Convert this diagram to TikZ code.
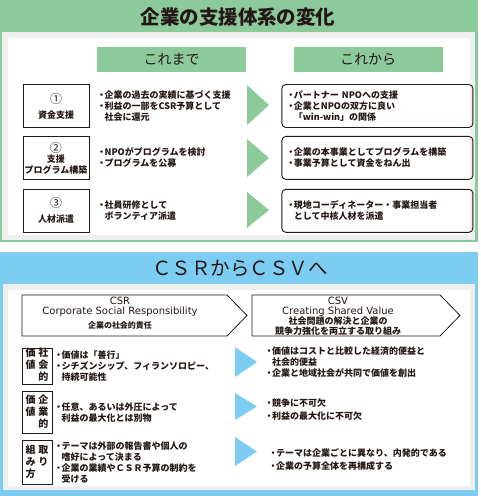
\documentclass[tikz,border=0pt]{standalone}
\usepackage{fontspec}
\setmainfont{Noto Sans CJK JP}
\newfontfamily\latinfont{DejaVu Sans}
\usetikzlibrary{positioning}
\definecolor{panelgreen}{HTML}{8CC99B}
\definecolor{panelblue}{HTML}{7DCDF3}
\definecolor{framegray}{HTML}{EFEFEF}
\definecolor{textdark}{HTML}{231815}
\newcommand{\jbul}{\makebox[6pt]{・}}
\newcommand{\jind}{\hspace*{6pt}}
\newcommand{\nummark}[1]{{\mdseries\fontsize{12}{12}\selectfont #1}}

\begin{document}
\begin{tikzpicture}[
  x=1pt, y=-1pt,
  every node/.style={text=textdark},
  headbox/.style={
    rectangle, fill=panelgreen,
    minimum width=149pt, minimum height=25pt, inner sep=0pt,
    font=\fontsize{14}{16}\selectfont
  },
  itembox/.style={
    rectangle, draw=textdark, line width=0.9pt,
    minimum width=66pt, minimum height=43pt, inner sep=0pt,
    align=center, font=\bfseries\fontsize{9}{11}\selectfont
  },
  resultbox/.style={
    rectangle, rounded corners=4pt, draw=textdark, line width=0.9pt,
    text width=179pt, inner xsep=6pt, inner ysep=0pt,
    minimum height=43pt, align=left,
    font=\bfseries\fontsize{9}{11}\selectfont
  },
  bodytext/.style={
    inner sep=0pt, align=left,
    font=\bfseries\fontsize{9}{11}\selectfont
  },
  tatebox/.style={
    rectangle, draw=textdark, line width=0.9pt,
    minimum width=30pt, inner sep=0pt,
    font=\bfseries\fontsize{10}{11}\selectfont
  },
  pentagon/.style={draw=textdark, line width=0.8pt, fill=white}
]
\useasboundingbox (0,0) rectangle (480,496);
\fill[white] (0,0) rectangle (480,496);

% ── Panels ────────────────────────────────────────────────────────────────
\fill[panelgreen] (0,0) rectangle (478,242);
\fill[framegray]  (2,32) rectangle (475,240);
\fill[white]      (8,38) rectangle (470,235);

\fill[panelblue]  (0,252) rectangle (478,496);
\fill[framegray]  (3,284) rectangle (475,490);
\fill[white]      (8,290) rectangle (470,486);

% ── Titles ────────────────────────────────────────────────────────────────
\node[font=\bfseries\fontsize{19.5}{22}\selectfont] (title) at (238,17)
  {企業の支援体系の変化};
\node[headbox] (before) at (171.5,59.5) {これまで};
\node[headbox] (after)  at (368,59.5)   {これから};

% ── Support types ─────────────────────────────────────────────────────────
\node[itembox] (fund) at (56,106) {\nummark{①}\\[4pt]資金支援};
\node[itembox, below=8pt of fund] (program) {\nummark{②}\\[-1pt]支援\\プログラム構築};
\node[itembox, below=9pt of program] (staff) {\nummark{③}\\[4pt]人材派遣};

% ── Until now ─────────────────────────────────────────────────────────────
\node[bodytext, right=9pt of fund] (fundold)
  {\jbul 企業の過去の実績に基づく支援\\
   \jbul 利益の一部をCSR予算として\\
   \jind 社会に還元};
\node[bodytext, right=9pt of program] (programold)
  {\jbul NPOがプログラムを検討\\
   \jbul プログラムを公募};
\node[bodytext, right=9pt of staff] (staffold)
  {\jbul 社員研修として\\
   \jind ボランティア派遣};

% ── Arrows ────────────────────────────────────────────────────────────────
\fill[panelgreen] (247,85)  -- (269,105) -- (247,125) -- cycle;
\fill[panelgreen] (247,139) -- (269,158) -- (247,177) -- cycle;
\fill[panelgreen] (247,192) -- (269,210) -- (247,228) -- cycle;

% ── From now on ───────────────────────────────────────────────────────────
\node[resultbox, right=192pt of fund] (fundnew)
  {\jbul パートナー NPOへの支援\\
   \jbul 企業とNPOの双方に良い\\
   \jind 「win-win」の関係};
\node[resultbox, right=192pt of program] (programnew)
  {\jbul 企業の本事業としてプログラムを構築\\
   \jbul 事業予算として資金をねん出};
\node[resultbox, right=192pt of staff] (staffnew)
  {\jbul 現地コーディネーター・事業担当者\\
   \jind として中核人材を派遣};

% ── CSR / CSV ─────────────────────────────────────────────────────────────
\node[font=\fontsize{19.5}{22}\selectfont] (csvtitle) at (240,268)
  {ＣＳＲからＣＳＶへ};

\draw[pentagon] (22,295) -- (227,295) -- (247,315.5) -- (227,336) -- (22,336) -- cycle;
\draw[pentagon] (252,295) -- (440,295) -- (460,315.5) -- (440,336) -- (252,336) -- cycle;

\node[align=center, inner sep=0pt, font=\fontsize{10}{10}\selectfont] (csr) at (120,313)
  {{\latinfont CSR}\\
   {\latinfont Corporate Social Responsibility}\\[4pt]
   {\bfseries\fontsize{8}{10}\selectfont 企業の社会的責任}};
\node[align=center, inner sep=0pt, font=\fontsize{10}{10}\selectfont] (csv) at (338,316)
  {{\latinfont CSV}\\
   {\latinfont Creating Shared Value}\\
   {\bfseries\fontsize{9}{10}\selectfont 社会問題の解決と企業の}\\
   {\bfseries\fontsize{9}{10}\selectfont 競争力強化を両立する取り組み}};

% ── Row labels (vertical) ─────────────────────────────────────────────────
\node[tatebox, minimum height=36pt] (social) at (37,366)
  {\begin{tabular}{@{}c@{\hspace{3pt}}c@{}}価&社\\値&会\\&的\end{tabular}};
\node[tatebox, minimum height=42pt, below=7pt of social] (corporate)
  {\begin{tabular}{@{}c@{\hspace{3pt}}c@{}}価&企\\値&業\\&的\end{tabular}};
\node[tatebox, minimum height=44pt, below=6pt of corporate] (approach)
  {\begin{tabular}{@{}c@{\hspace{3pt}}c@{}}組&取\\み&り\\方&\end{tabular}};

% ── CSR side ──────────────────────────────────────────────────────────────
\node[bodytext, right=3pt of social] (socialcsr)
  {\jbul 価値は「善行」\\
   \jbul シチズンシップ、フィランソロピー、\\
   \jind 持続可能性};
\node[bodytext, right=3pt of corporate] (corpcsr)
  {\jbul 任意、あるいは外圧によって\\
   \jind 利益の最大化とは別物};
\node[bodytext, right=3pt of approach] (approachcsr)
  {\jbul テーマは外部の報告書や個人の\\
   \jind 嗜好によって決まる\\
   \jbul 企業の業績やＣＳＲ予算の制約を\\
   \jind 受ける};

% ── Arrows ────────────────────────────────────────────────────────────────
\fill[panelblue] (235,347) -- (257,362)   -- (235,377) -- cycle;
\fill[panelblue] (235,393) -- (257,406.5) -- (235,420) -- cycle;
\fill[panelblue] (235,437) -- (257,451.5) -- (235,466) -- cycle;

% ── CSV side ──────────────────────────────────────────────────────────────
\node[bodytext, anchor=west] (socialcsv) at (266,362.5)
  {\jbul 価値はコストと比較した経済的便益と\\
   \jind 社会的便益\\
   \jbul 企業と地域社会が共同で価値を創出};
\node[bodytext, anchor=west] (corpcsv) at (266,409.5)
  {\jbul 競争に不可欠\\[1.5pt]
   \jbul 利益の最大化に不可欠};
\node[bodytext, anchor=west] (approachcsv) at (270,459.5)
  {\jbul テーマは企業ごとに異なり、内発的である\\[2pt]
   \jbul 企業の予算全体を再構成する};

\end{tikzpicture}
\end{document}
